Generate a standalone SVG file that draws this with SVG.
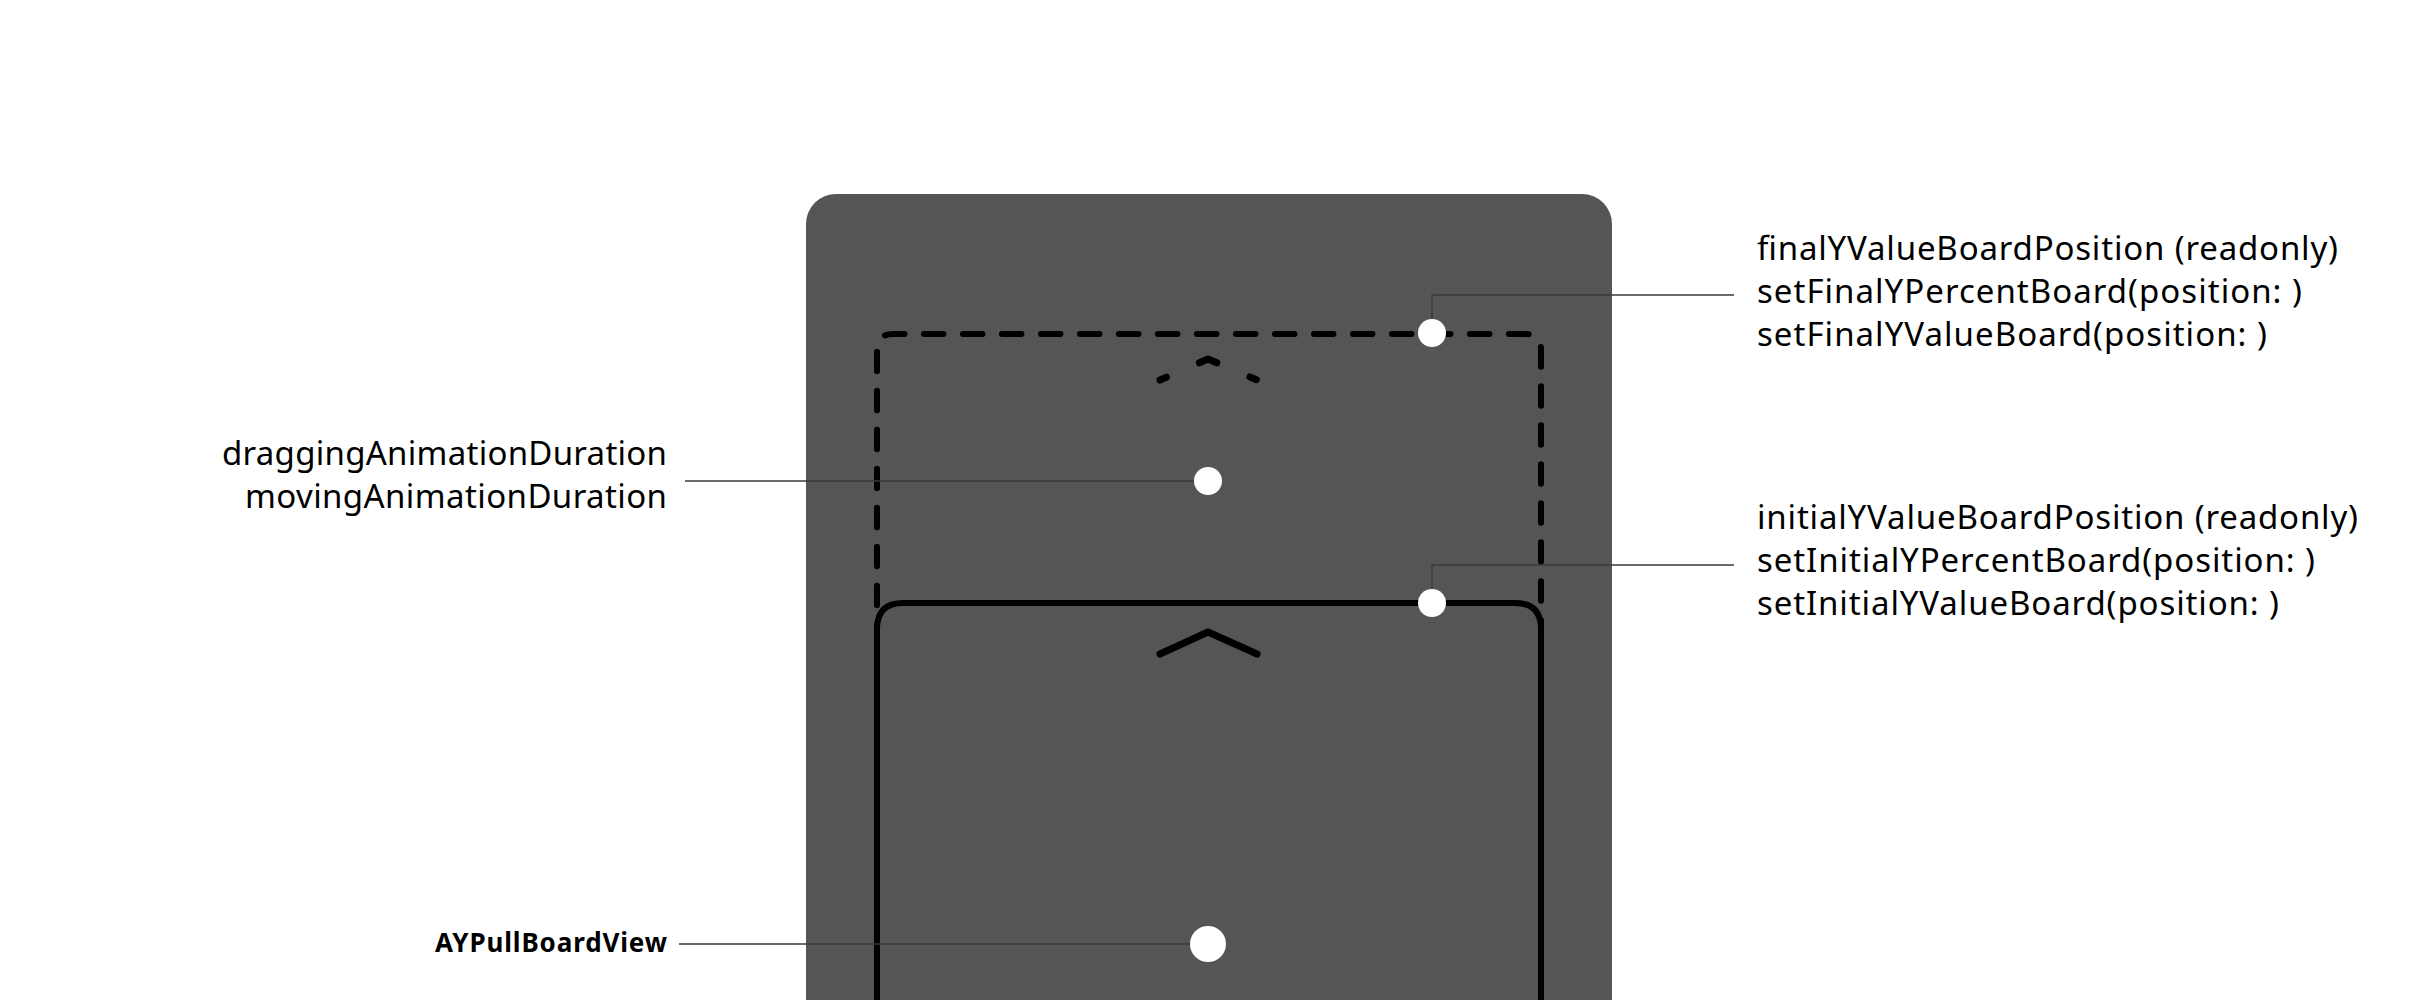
<svg xmlns="http://www.w3.org/2000/svg" width="2418" height="1000" viewBox="0 0 2418 1000">
<style>
.lbl{font-family:"Noto Sans","DejaVu Sans",sans-serif;font-size:33px;fill:#000}
.bold{font-family:"Noto Sans","DejaVu Sans",sans-serif;font-size:26px;font-weight:bold;fill:#000}
.lead{fill:none;stroke:#3a3a3a;stroke-width:1.4}
.dot{fill:#fff}
.edge{fill:none;stroke:#000;stroke-width:6}
</style>
<rect width="2418" height="1000" fill="#fff"/>
<g id="phone">
<rect x="806" y="194" width="806" height="900" rx="30" ry="30" fill="#555555"/>
</g>
<g id="final-board">
<path class="edge" d="M877,1010 V350 Q877,334 893,334 H1525 Q1541,334 1541,350 V1010" stroke-dasharray="19.5 19.5" stroke-dashoffset="24.25" stroke-linecap="round"/>
<path d="M1160,380 L1208,359 L1257,380" fill="none" stroke="#000" stroke-width="7" stroke-linecap="round" stroke-linejoin="round" stroke-dasharray="7 36 19 36 7"/>
</g>
<g id="initial-board">
<path class="edge" d="M877,1010 V629 Q877,603 903,603 H1515 Q1541,603 1541,629 V1010"/>
<path d="M1160,654 L1208,632 L1257,654" fill="none" stroke="#000" stroke-width="7" stroke-linecap="round" stroke-linejoin="round"/>
</g>
<g id="connectors">
<polyline class="lead" points="1432,333 1432,295 1734,295"/>
<polyline class="lead" points="1432,603 1432,565 1734,565"/>
<line class="lead" x1="685" y1="481" x2="1208" y2="481"/>
<line class="lead" x1="679" y1="944" x2="1208" y2="944"/>
</g>
<g id="dot-final"><circle class="dot" cx="1432" cy="333" r="14"/></g>
<g id="dot-initial"><circle class="dot" cx="1432" cy="603" r="14"/></g>
<g id="dot-duration"><circle class="dot" cx="1208" cy="481" r="14"/></g>
<g id="dot-view"><circle class="dot" cx="1208" cy="944" r="18"/></g>
<g id="label-final">
<text class="lbl" x="1757" y="260" textLength="581">finalYValueBoardPosition (readonly)</text>
<text class="lbl" x="1757" y="303" textLength="545">setFinalYPercentBoard(position: )</text>
<text class="lbl" x="1757" y="346" textLength="510">setFinalYValueBoard(position: )</text>
</g>
<g id="label-initial">
<text class="lbl" x="1757" y="529" textLength="601">initialYValueBoardPosition (readonly)</text>
<text class="lbl" x="1757" y="572" textLength="558">setInitialYPercentBoard(position: )</text>
<text class="lbl" x="1757" y="615" textLength="522">setInitialYValueBoard(position: )</text>
</g>
<g id="label-duration">
<text class="lbl" x="222" y="465" textLength="445">draggingAnimationDuration</text>
<text class="lbl" x="245" y="508" textLength="422">movingAnimationDuration</text>
</g>
<g id="label-view">
<text class="bold" x="435" y="952" textLength="232">AYPullBoardView</text>
</g>
</svg>
